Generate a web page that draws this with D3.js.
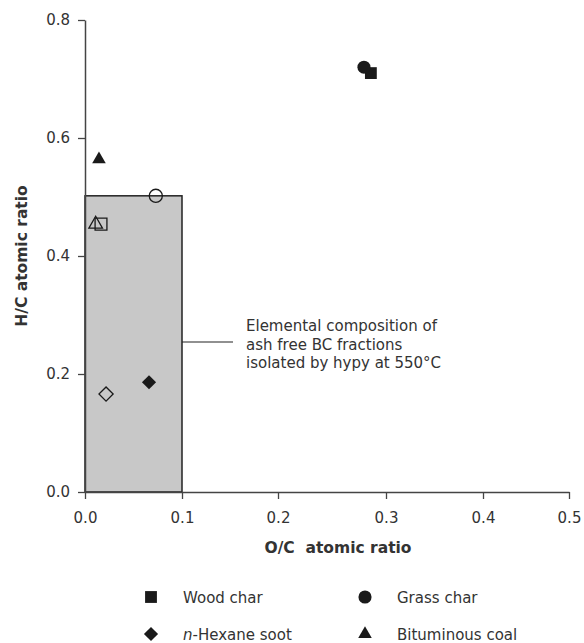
<!DOCTYPE html>
<html>
<head>
<meta charset="utf-8">
<script src="https://cdn.jsdelivr.net/npm/d3@7"></script>
<style>
  body { margin: 0; background: #fff; }
  text { font-family: "DejaVu Sans", Verdana, sans-serif; fill: #333; }
</style>
</head>
<body>
<div id="chart-area"></div>
<script>
// data
var series = ["Wood char", "Grass char", "n-Hexane soot", "Bituminous coal"];
var rawOC = [0.286, 0.2796, 0.066, 0.0144];
var rawHC = [0.710, 0.720, 0.186, 0.564];
var ashFreeOC = [0.0165, 0.073, 0.0217, 0.011];
var ashFreeHC = [0.454, 0.502, 0.166, 0.454];
var xTicks = [0, 0.1, 0.2, 0.3, 0.4, 0.5];
var yTicks = [0, 0.2, 0.4, 0.6, 0.8];
var boxOC = [0, 0.1];
var boxHC = [0, 0.502];
var noteLines = ["Elemental composition of", "ash free BC fractions", "isolated by hypy at 550\u00B0C"];

var W = 584, H = 643;
var svg = d3.select("#chart-area").append("svg")
    .attr("width", W)
    .attr("height", H);

// the printed x axis is not evenly spaced, so map each tick to where it sits
var x = d3.scaleLinear()
    .domain(xTicks)
    .range([85, 182, 278, 386, 483, 569]);
var y = d3.scaleLinear()
    .domain([0, 0.8])
    .range([492, 20]);

var axisColor = "#444";

// shaded box
svg.append("rect")
    .attr("x", x(boxOC[0]))
    .attr("y", y(boxHC[1]))
    .attr("width", x(boxOC[1]) - x(boxOC[0]))
    .attr("height", y(boxHC[0]) - y(boxHC[1]))
    .attr("fill", "#c8c8c8")
    .attr("stroke", "#222")
    .attr("stroke-width", 1.5);

// axes
var xAxis = svg.append("g")
    .attr("transform", "translate(0," + y(0) + ")")
    .call(d3.axisBottom(x).tickValues(xTicks).tickFormat(d3.format(".1f")).tickSize(7).tickSizeOuter(0).tickPadding(13));
var yAxis = svg.append("g")
    .attr("transform", "translate(" + x(0) + ",0)")
    .call(d3.axisLeft(y).tickValues(yTicks).tickFormat(d3.format(".1f")).tickSize(7).tickSizeOuter(0).tickPadding(8));

[xAxis, yAxis].forEach(function(a) {
    a.select(".domain").attr("stroke", axisColor).attr("stroke-width", 1.5);
    a.selectAll(".tick line").attr("stroke", axisColor).attr("stroke-width", 1.3);
    a.selectAll(".tick text")
        .attr("font-family", "DejaVu Sans, Verdana, sans-serif")
        .attr("font-size", 15)
        .attr("fill", "#333");
});

// axis titles
svg.append("text")
    .attr("x", 338)
    .attr("y", 553)
    .attr("text-anchor", "middle")
    .attr("font-size", 15.5)
    .attr("font-weight", "bold")
    .attr("xml:space", "preserve")
    .text("O/C  atomic ratio");

svg.append("text")
    .attr("transform", "translate(27,256) rotate(-90)")
    .attr("text-anchor", "middle")
    .attr("font-size", 15.5)
    .attr("font-weight", "bold")
    .text("H/C atomic ratio");

// annotation
svg.append("line")
    .attr("x1", x(0.1))
    .attr("x2", 233)
    .attr("y1", 342)
    .attr("y2", 342)
    .attr("stroke", "#222")
    .attr("stroke-width", 1.2);

svg.selectAll("text.note")
    .data(noteLines)
    .enter()
    .append("text")
    .attr("class", "note")
    .attr("x", 246)
    .attr("y", function(d, i) { return 331 + i * 18.5; })
    .attr("font-size", 15)
    .text(function(d) { return d; });

// markers
var shapes = [d3.symbolSquare, d3.symbolCircle, d3.symbolSquare, d3.symbolTriangle];
var sizes = [140, 135, 100, 80];
var turns = [0, 0, 45, 0];

function marker(sel, i) {
    sel.attr("d", d3.symbol().type(shapes[i]).size(sizes[i])());
}

var ink = "#1a1a1a";

series.forEach(function(name, i) {
    svg.append("path")
        .call(marker, i)
        .attr("transform", "translate(" + x(ashFreeOC[i]) + "," + y(ashFreeHC[i]) + ") rotate(" + turns[i] + ")")
        .attr("fill", "none")
        .attr("stroke", ink)
        .attr("stroke-width", 1.3);
});

series.forEach(function(name, i) {
    svg.append("path")
        .call(marker, i)
        .attr("transform", "translate(" + x(rawOC[i]) + "," + y(rawHC[i]) + ") rotate(" + turns[i] + ")")
        .attr("fill", ink);
});

// legend
var legX = [151, 365];
var legY = [597, 634];

series.forEach(function(name, i) {
    var col = i % 2, row = Math.floor(i / 2);
    var g = svg.append("g")
        .attr("transform", "translate(" + legX[col] + "," + legY[row] + ")");
    g.append("path")
        .call(marker, i)
        .attr("transform", "rotate(" + turns[i] + ")")
        .attr("fill", ink);
    var t = g.append("text")
        .attr("x", 32)
        .attr("y", 5.5)
        .attr("font-size", 15);
    if (name.indexOf("n-") === 0) {
        t.append("tspan").attr("font-style", "italic").text("n");
        t.append("tspan").text(name.slice(1));
    } else {
        t.text(name);
    }
});
</script>
</body>
</html>
